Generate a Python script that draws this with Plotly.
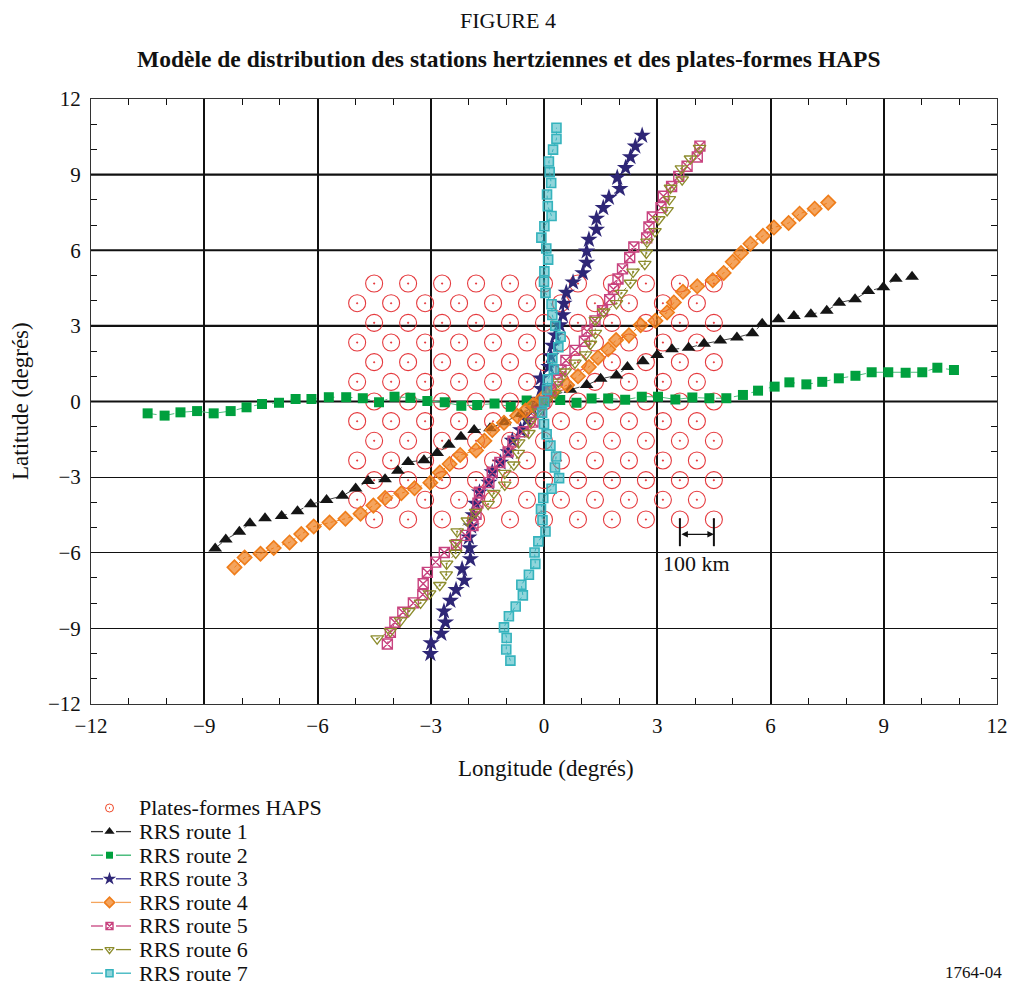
import plotly.graph_objects as go

# ---------------- data ----------------
# HAPS hexagonal grid (degrees)
haps_row_step = 0.78
haps_rows = list(range(-6, 7))
haps_even_cols = [-4.5, -3.6, -2.7, -1.8, -0.9, 0.0, 0.9, 1.8, 2.7, 3.6, 4.5]
haps_odd_cols = [-4.95, -4.05, -3.15, -2.25, -1.35, -0.45, 0.45, 1.35, 2.25, 3.15, 4.05]

r1_x = [-8.71, -8.43, -8.07, -7.79, -7.39, -6.95, -6.53, -6.18, -5.76, -5.34, -4.99, -4.66, -4.21,
        -3.87, -3.60, -3.18, -2.83, -2.52, -2.20, -1.85, -1.43, -1.05, -0.62, -0.20, 0.28, 0.70,
        1.13, 1.50, 1.92, 2.21, 2.62, 3.00, 3.39, 3.83, 4.24, 4.67, 5.11, 5.52, 5.78, 6.21, 6.62,
        7.07, 7.49, 7.82, 8.24, 8.59, 8.99, 9.32, 9.75]
r1_y = [-5.83, -5.47, -5.17, -4.83, -4.63, -4.54, -4.35, -4.08, -3.91, -3.74, -3.45, -3.15, -3.08,
        -2.75, -2.40, -2.33, -2.04, -1.72, -1.40, -1.13, -1.06, -0.82, -0.50, -0.15, 0.25, 0.47,
        0.65, 0.90, 1.03, 1.37, 1.60, 1.84, 2.07, 2.13, 2.29, 2.42, 2.54, 2.71, 3.08, 3.26, 3.39,
        3.46, 3.60, 3.92, 4.06, 4.38, 4.53, 4.87, 4.95]

r2_x = [-10.50, -10.05, -9.63, -9.19, -8.75, -8.30, -7.88, -7.47, -7.02, -6.58, -6.16, -5.70, -5.24,
        -4.80, -4.37, -3.96, -3.54, -3.09, -2.63, -2.19, -1.77, -1.31, -0.88, -0.46, 0.00, 0.43,
        0.86, 1.26, 1.70, 2.15, 2.59, 3.02, 3.48, 3.93, 4.38, 4.83, 5.27, 5.67, 6.11, 6.50, 6.95,
        7.37, 7.81, 8.25, 8.68, 9.12, 9.58, 10.02, 10.42, 10.86]
r2_y = [-0.47, -0.56, -0.43, -0.38, -0.47, -0.38, -0.23, -0.10, -0.05, 0.10, 0.10, 0.17, 0.17,
        0.13, -0.03, 0.19, 0.15, 0.02, -0.03, -0.17, -0.14, -0.08, -0.21, 0.04, 0.02, 0.06,
        -0.05, 0.12, 0.12, 0.07, 0.19, 0.19, 0.08, 0.16, 0.13, 0.13, 0.26, 0.43, 0.59, 0.76, 0.68,
        0.78, 0.92, 1.02, 1.16, 1.16, 1.14, 1.16, 1.34, 1.25]

r3_x = [-3.01, -2.99, -2.72, -2.61, -2.65, -2.48, -2.33, -2.11, -2.17, -1.95, -1.97, -1.99, -1.93,
        -1.88, -1.81, -1.71, -1.46, -1.37, -1.15, -0.95, -0.84, -0.62, -0.45, -0.30, -0.15, -0.07,
        -0.09, 0.13, 0.18, 0.22, 0.30, 0.42, 0.50, 0.53, 0.59, 0.77, 1.03, 1.13, 1.13, 1.19, 1.39,
        1.39, 1.57, 1.72, 2.01, 1.94, 2.16, 2.29, 2.42, 2.60]
r3_y = [-10.01, -9.58, -9.21, -8.76, -8.32, -7.90, -7.47, -7.10, -6.65, -6.25, -5.81, -5.39, -4.95,
        -4.50, -4.05, -3.60, -3.22, -2.80, -2.42, -2.01, -1.55, -1.13, -0.73, -0.32, 0.08, 0.50,
        0.92, 1.38, 1.80, 2.22, 2.63, 3.03, 3.43, 3.89, 4.32, 4.73, 5.10, 5.51, 5.96, 6.42, 6.82,
        7.26, 7.68, 8.09, 8.44, 8.88, 9.27, 9.70, 10.12, 10.55]

r4_x = [-8.20, -7.93, -7.51, -7.16, -6.74, -6.43, -6.10, -5.68, -5.26, -4.86, -4.52, -4.21, -3.78,
        -3.43, -3.01, -2.76, -2.50, -2.22, -1.80, -1.58, -1.37, -1.06, -0.71, -0.49, -0.29, -0.05,
        0.22, 0.61, 0.90, 1.19, 1.43, 1.70, 1.91, 2.25, 2.56, 2.95, 3.26, 3.44, 3.68, 4.06, 4.47,
        4.76, 5.00, 5.22, 5.47, 5.80, 6.09, 6.48, 6.77, 7.17, 7.53]
r4_y = [-6.58, -6.19, -6.04, -5.81, -5.59, -5.26, -4.96, -4.80, -4.65, -4.45, -4.13, -3.83, -3.64,
        -3.44, -3.22, -2.82, -2.48, -2.12, -1.94, -1.56, -1.13, -0.84, -0.57, -0.36, -0.14, 0.13,
        0.40, 0.65, 1.00, 1.37, 1.74, 2.07, 2.44, 2.63, 3.03, 3.20, 3.53, 3.93, 4.35, 4.57, 4.81,
        5.10, 5.54, 5.89, 6.26, 6.57, 6.90, 7.08, 7.45, 7.65, 7.89]

r5_x = [-4.15, -4.07, -3.95, -3.74, -3.46, -3.21, -3.20, -3.09, -2.87, -2.64, -2.32, -2.08, -1.88,
        -1.80, -1.75, -1.71, -1.46, -1.37, -1.17, -0.95, -0.82, -0.55, -0.29, -0.12, 0.02, 0.18,
        0.35, 0.45, 0.58, 0.82, 1.07, 1.14, 1.35, 1.55, 1.74, 1.84, 1.96, 2.08, 2.27, 2.38, 2.72,
        2.78, 2.87, 3.10, 3.16, 3.38, 3.57, 3.79, 4.06, 4.13]
r5_y = [-9.62, -9.16, -8.76, -8.36, -7.99, -7.66, -7.23, -6.78, -6.37, -5.99, -5.68, -5.31, -4.92,
        -4.47, -4.03, -3.60, -3.22, -2.80, -2.42, -2.00, -1.57, -1.20, -0.82, -0.42, 0.00, 0.42,
        0.85, 1.25, 1.63, 2.03, 2.39, 2.79, 3.20, 3.60, 4.04, 4.45, 4.86, 5.26, 5.71, 6.13, 6.49,
        6.92, 7.32, 7.69, 8.14, 8.53, 8.93, 9.33, 9.70, 10.13]

r6_x = [-4.42, -4.07, -3.80, -3.58, -3.27, -3.03, -2.76, -2.59, -2.58, -2.34, -2.34, -2.30, -2.03,
        -1.81, -1.48, -1.33, -1.04, -1.04, -0.80, -0.68, -0.67, -0.40, -0.36, -0.15, 0.05, 0.29,
        0.38, 0.56, 0.82, 1.10, 1.23, 1.36, 1.36, 1.58, 1.92, 2.05, 2.29, 2.36, 2.67, 2.71, 2.73,
        2.94, 3.04, 3.26, 3.32, 3.35, 3.66, 3.64, 3.88, 4.12]
r6_y = [-9.41, -9.12, -8.69, -8.32, -7.99, -7.62, -7.29, -6.87, -6.44, -6.01, -5.62, -5.16, -4.73,
        -4.39, -4.07, -3.64, -3.31, -2.84, -2.51, -2.05, -1.63, -1.26, -0.80, -0.40, -0.02, 0.32,
        0.78, 1.18, 1.53, 1.86, 2.28, 2.71, 3.23, 3.56, 3.89, 4.30, 4.70, 5.14, 5.45, 5.89, 6.33,
        6.75, 7.22, 7.58, 8.02, 8.47, 8.80, 9.24, 9.63, 10.05]

r7_x = [-0.89, -1.00, -0.99, -1.06, -0.93, -0.75, -0.56, -0.60, -0.40, -0.23, -0.25, -0.15, 0.04,
        -0.04, -0.08, -0.02, 0.20, 0.40, 0.29, 0.32, 0.17, 0.07, 0.00, -0.05, 0.00, 0.08, 0.10,
        0.26, 0.22, 0.38, 0.44, 0.30, 0.22, 0.20, 0.04, 0.00, 0.01, 0.11, 0.06, -0.07, 0.01, 0.20,
        0.10, 0.08, 0.19, 0.15, 0.13, 0.24, 0.33, 0.33]
r7_y = [-10.28, -9.84, -9.38, -8.96, -8.52, -8.13, -7.69, -7.27, -6.87, -6.44, -5.99, -5.55, -5.16,
        -4.71, -4.27, -3.83, -3.46, -3.04, -2.62, -2.18, -1.75, -1.30, -0.89, -0.44, -0.01, 0.46,
        0.88, 1.28, 1.71, 2.15, 2.57, 3.00, 3.43, 3.86, 4.31, 4.75, 5.16, 5.63, 6.07, 6.50, 6.95,
        7.36, 7.75, 8.21, 8.67, 9.10, 9.52, 9.99, 10.42, 10.86]

route_names = ["RRS route 1", "RRS route 2", "RRS route 3", "RRS route 4",
               "RRS route 5", "RRS route 6", "RRS route 7"]
haps_name = "Plates-formes HAPS"
axis_ticks = [-12, -9, -6, -3, 0, 3, 6, 9, 12]

# scale bar (100 km) in degrees
scale_x0, scale_x1 = 3.6, 4.5
scale_ytop, scale_ybot, scale_yarrow = -4.63, -5.74, -5.27

# ---------------- layout geometry (pixels) ----------------
W, H = 1012, 987
PL, PR, PT, PB = 91, 997, 99, 704     # main plot area
BOT = 982                             # bottom of the figure drawing area
def px_x(p):
    return (p - PL) / (PR - PL)
def px_y(p):
    return (BOT - p) / (BOT - PT)

# ---------------- build ----------------
haps_x, haps_y = [], []
for k in haps_rows:
    cols = haps_even_cols if k % 2 == 0 else haps_odd_cols
    for c in cols:
        haps_x.append(c)
        haps_y.append(round(k * haps_row_step, 3))

SERIF = "Liberation Serif, Times New Roman, serif"
INK = "#111111"
RED = "#e5393d"

styles = [
    dict(symbol="triangle-up", size=12, color="#151515", line=dict(width=0),
         lcolor="#444444", dash="dash"),
    dict(symbol="square", size=10, color="#00a03e", line=dict(width=0),
         lcolor="#4fbd7d", dash="dash"),
    dict(symbol="star", size=13, color="#2e2676", line=dict(width=0),
         lcolor="#2e2676", dash="dot"),
    dict(symbol="diamond", size=11, color="rgba(239,125,26,0.7)", line=dict(width=1.6, color="#ef7d1a"),
         lcolor="#ef7d1a", dash="dot"),
    dict(symbol="square-x-open", size=10, color="#c8437f", line=dict(width=1.4, color="#c8437f"),
         lcolor="#c8437f", dash="dot"),
    dict(symbol="triangle-down-open-dot", size=11, color="#8c8c2c", line=dict(width=1.3, color="#8c8c2c"),
         lcolor="#8c8c2c", dash="dot"),
    dict(symbol="square", size=9, color="rgba(53,179,189,0.55)", line=dict(width=1.6, color="#35b3bd"),
         lcolor="#35b3bd", dash="dot"),
]
legend_line_colors = ["#333333", "#2fb36a", "#3a3290", "#f5a55d", "#c8437f", "#8c8c2c", "#35b3bd"]

routes = [(r1_x, r1_y), (r2_x, r2_y), (r3_x, r3_y), (r4_x, r4_y),
          (r5_x, r5_y), (r6_x, r6_y), (r7_x, r7_y)]

fig = go.Figure()

fig.add_trace(go.Scatter(
    x=haps_x, y=haps_y, mode="markers", name=haps_name, hoverinfo="skip",
    marker=dict(symbol="circle-open-dot", size=17, color=RED, line=dict(width=1.1, color=RED))))

for (xs, ys), st, nm in zip(routes, styles, route_names):
    fig.add_trace(go.Scatter(
        x=xs, y=ys, mode="lines+markers", name=nm,
        line=dict(color=st["lcolor"], width=1, dash=st["dash"]),
        marker=dict(symbol=st["symbol"], size=st["size"], color=st["color"], line=st["line"])))

# ---- custom legend drawn on an auxiliary pixel-scaled axis pair (x2/y2) ----
leg_row0, leg_step = 808, 23.6
leg_line_l = (89, 103)
leg_line_r = (116, 131)
leg_mark_x = 109.5
leg_text_x = 137
legend_items = [(haps_name, None, dict(symbol="circle-open-dot", size=8, color="#f04a2a",
                                        line=dict(width=1, color="#f04a2a")))]
for st, nm, lc in zip(styles, route_names, legend_line_colors):
    legend_items.append((nm, lc, dict(symbol=st["symbol"], size=max(st["size"] - 3, 7),
                                      color=st["color"], line=st["line"])))

leg_annotations = []
for i, (nm, lc, mk) in enumerate(legend_items):
    yy = leg_row0 + i * leg_step
    if lc is not None:
        fig.add_trace(go.Scatter(
            x=[leg_line_l[0], leg_line_l[1], None, leg_line_r[0], leg_line_r[1]],
            y=[yy, yy, None, yy, yy], xaxis="x2", yaxis="y2", mode="lines",
            line=dict(color=lc, width=1.3), hoverinfo="skip", showlegend=False))
    fig.add_trace(go.Scatter(
        x=[leg_mark_x], y=[yy], xaxis="x2", yaxis="y2", mode="markers",
        marker=mk, hoverinfo="skip", showlegend=False))
    leg_annotations.append(dict(x=leg_text_x, y=yy, xref="x2", yref="y2", text=nm,
                                xanchor="left", yanchor="middle", showarrow=False,
                                font=dict(family=SERIF, size=22, color=INK)))

# thick horizontal grid lines (upper half)
shapes = []
for yv in [0, 3, 6, 9]:
    shapes.append(dict(type="line", xref="x", yref="y", x0=-12, x1=12, y0=yv, y1=yv,
                       line=dict(color=INK, width=2.2), layer="below"))
# scale bar
for xv in [scale_x0, scale_x1]:
    shapes.append(dict(type="line", xref="x", yref="y", x0=xv, x1=xv, y0=scale_ytop, y1=scale_ybot,
                       line=dict(color=INK, width=2)))

def label(x, y, text, size, **kw):
    d = dict(x=x, y=y, xref="paper", yref="paper", text=text, showarrow=False,
             xanchor="center", yanchor="middle", font=dict(family=SERIF, size=size, color=INK))
    d.update(kw)
    return d

annotations = [
    dict(x=scale_x1, y=scale_yarrow, ax=scale_x0, ay=scale_yarrow, xref="x", yref="y",
         axref="x", ayref="y", text="", showarrow=True, arrowhead=2, arrowside="end+start",
         arrowsize=1, arrowwidth=1.3, arrowcolor=INK),
    dict(x=4.05, y=-6.42, xref="x", yref="y", text="100 km", showarrow=False,
         xanchor="center", yanchor="middle", font=dict(family=SERIF, size=22, color=INK)),
    label(px_x(508), px_y(20), "FIGURE 4", 22),
    label(px_x(508), px_y(59),
          "<b>Modèle de distribution des stations hertziennes et des plates-formes HAPS</b>", 23.5),
    label(px_x(546), px_y(768), "Longitude (degrés)", 23),
    label(px_x(20), px_y(401), "Latitude (degrés)", 23, textangle=-90),
    label(px_x(973), px_y(972), "1764-04", 17),
] + leg_annotations

axis_common = dict(
    range=[-12, 12], tickvals=axis_ticks, ticks="inside", ticklen=7, tickcolor=INK,
    showline=True, linecolor="#333333", linewidth=1, mirror="allticks",
    showgrid=True, gridcolor=INK, zeroline=False, automargin=False,
    tickfont=dict(family=SERIF, size=21, color=INK),
    minor=dict(dtick=1, ticks="inside", ticklen=6, tickcolor=INK, showgrid=False),
    fixedrange=True,
)

fig.update_layout(
    width=W, height=H,
    margin=dict(l=PL, r=W - PR, t=PT, b=H - BOT),
    paper_bgcolor="white", plot_bgcolor="white",
    font=dict(family=SERIF, color=INK),
    showlegend=False,
    xaxis=dict(**axis_common, gridwidth=2.2, ticklabelstandoff=3, domain=[0, 1], anchor="y"),
    yaxis=dict(**axis_common, gridwidth=1.1, ticklabelstandoff=5,
               domain=[px_y(PB), 1], anchor="x"),
    xaxis2=dict(range=[PL, PR], domain=[0, 1], anchor="y2", visible=False, fixedrange=True),
    yaxis2=dict(range=[BOT, PB], domain=[0, px_y(PB)], anchor="x2", visible=False, fixedrange=True),
    shapes=shapes,
    annotations=annotations,
)

fig.write_html("out.html")
